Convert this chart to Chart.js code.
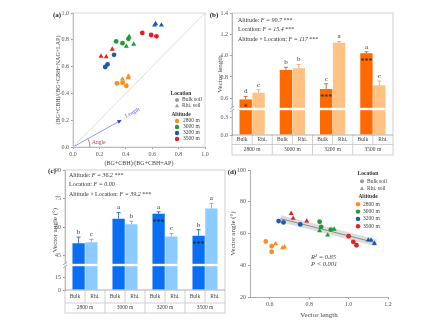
<!DOCTYPE html>
<html>
<head>
<meta charset="utf-8">
<script src="https://cdn.jsdelivr.net/npm/chart.js@4"></script>
<style>
  html, body { margin: 0; padding: 0; background: #fff; }
  #wrap { position: relative; width: 438px; height: 328px; overflow: hidden; }
  canvas { position: absolute; }
</style>
</head>
<body>
<div id="wrap">
  <canvas id="ca" width="178" height="168" style="left:40px;top:0;width:178px;height:168px"></canvas>
  <canvas id="cb" width="200" height="165" style="left:200px;top:0;width:200px;height:165px"></canvas>
  <canvas id="cc" width="195" height="168" style="left:35px;top:160px;width:195px;height:168px"></canvas>
  <canvas id="cd" width="185" height="168" style="left:215px;top:160px;width:185px;height:168px"></canvas>
</div>
<script>
// ---- data ----
const altitudes = ['2800 m', '3000 m', '3200 m', '3500 m'];
const locations = ['Bulk soil', 'Rhi. soil'];
const locShort = ['Bulk', 'Rhi.'];
const altColors = ['#ff8a1e', '#1f9a35', '#1d5ca8', '#e61e25'];

// (a) enzyme ratios, one inner list per altitude
const aBulkX = [[0.333, 0.376, 0.404], [0.327, 0.375, 0.420], [0.244, 0.262, 0.311], [0.525, 0.592, 0.632]];
const aBulkY = [[0.475, 0.481, 0.457], [0.788, 0.775, 0.807], [0.597, 0.617, 0.688], [0.851, 0.836, 0.826]];
const aRhiX = [[0.375, 0.418, 0.420], [0.404, 0.460, 0.425], [0.618, 0.626, 0.670], [0.212, 0.252, 0.297]];
const aRhiY = [[0.507, 0.517, 0.528], [0.751, 0.767, 0.824], [0.910, 0.920, 0.910], [0.677, 0.673, 0.730]];
const diagX = [0, 1];
const diagY = [0, 1];
const arrowX = [0, 0.355];
const arrowY = [0, 0.195];

// (b) vector length
const bBulk = [0.59, 0.866, 0.687, 1.022];
const bRhi = [0.653, 0.883, 1.12, 0.722];
const bBulkErr = [0.028, 0.025, 0.05, 0.015];
const bRhiErr = [0.028, 0.035, 0.012, 0.04];
const bBulkLetters = ['d', 'b', 'c', 'a'];
const bRhiLetters = ['c', 'b', 'a', 'c'];
const bBulkStars = ['*', '', '***', '***'];
const bFactors = ['Altitude', 'Location', 'Altitude \u00d7 Location'];
const bF = ['90.7', '15.4', '117'];
const bSig = ['***', '***', '***'];

// (c) vector angle
const cBulk = [51.5, 64.4, 67, 55.4];
const cRhi = [52, 61.4, 55, 69.7];
const cBulkErr = [3.2, 3.2, 1, 3.2];
const cRhiErr = [1.5, 1.6, 1.5, 2.7];
const cBulkLetters = ['b', 'a', 'a', 'b'];
const cRhiLetters = ['c', 'b', 'c', 'a'];
const cBulkStars = ['', '', '***', '***'];
const cF = ['36.2', '0.00', '39.2'];
const cSig = ['***', '', '***'];

// (d) vector angle vs length
const dBulkX = [[0.58, 0.61, 0.61], [0.853, 0.861, 0.91], [0.645, 0.67, 0.755], [1.0, 1.024, 1.04]];
const dBulkY = [[55, 52, 48.5], [67.4, 64.2, 62.5], [67.8, 67, 65.7], [58.3, 54.7, 52.6]];
const dRhiX = [[0.63, 0.665, 0.675], [0.853, 0.894, 0.927], [1.10, 1.114, 1.131], [0.709, 0.719, 0.788]];
const dRhiY = [[53.5, 51, 51.5], [61.7, 59, 62.7], [55.8, 55.8, 53.7], [72.6, 69.5, 67.8]];
const fitX = [0.655, 1.14];
const fitSlope = -31.5;
const fitIntercept = 90;
const dR2 = '0.85';
const dP = '< 0.001';

// tick labels
const unitTicks = [0, 0.2, 0.4, 0.6, 0.8, 1.0];
const bLowTicks = [0, 0.3];
const bHighTicks = [0.6, 0.8, 1.0, 1.2, 1.4];
const cLowTicks = [0, 15];
const cHighTicks = [45, 60, 75, 90];
const dXTicks = [0.6, 0.8, 1.0, 1.2];
const dYTicks = [20, 40, 60, 80, 100];

// ---- shared bits ----
const SERIF = "'Liberation Serif', 'Times New Roman', serif";
Chart.defaults.font.family = SERIF;
Chart.defaults.font.size = 6;
Chart.defaults.color = '#555';
Chart.defaults.animation = false;
Chart.defaults.plugins.legend.display = false;
Chart.defaults.plugins.tooltip.enabled = false;

const tickGrid = { drawOnChartArea: false, drawTicks: true, tickLength: 2, color: '#999' };
const axisBorder = { color: '#999', width: 0.8 };
const fixTicks = list => s => { s.ticks = list.map(value => ({ value })); };

function txt(ctx, s, x, y, font, color, align, base) {
  ctx.font = font;
  ctx.fillStyle = color || '#333';
  ctx.textAlign = align || 'left';
  ctx.textBaseline = base || 'middle';
  ctx.fillText(s, x, y);
}

function vtxt(ctx, s, x, y, font, color) {
  ctx.save();
  ctx.translate(x, y);
  ctx.rotate(-Math.PI / 2);
  txt(ctx, s, 0, 0, font, color, 'center');
  ctx.restore();
}

function marker(ctx, shape, x, y, r, color) {
  ctx.fillStyle = color;
  ctx.beginPath();
  if (shape === 'triangle') {
    ctx.moveTo(x, y - r * 1.15);
    ctx.lineTo(x + r, y + r * 0.65);
    ctx.lineTo(x - r, y + r * 0.65);
    ctx.closePath();
  } else {
    ctx.arc(x, y, r, 0, Math.PI * 2);
  }
  ctx.fill();
}

function drawLegend(ctx, o) {
  ctx.save();
  txt(ctx, 'Location', o.cx, o.y, 'bold 5.5px ' + SERIF, '#333', 'center');
  locations.forEach((loc, i) => {
    const yy = o.y + o.step * (i + 1);
    marker(ctx, i === 0 ? 'circle' : 'triangle', o.mx1, yy, 2, '#999');
    txt(ctx, loc, o.tx1, yy, '5.5px ' + SERIF, '#444');
  });
  txt(ctx, 'Altitude', o.cx, o.ay, 'bold 5.5px ' + SERIF, '#333', 'center');
  altitudes.forEach((alt, i) => {
    const yy = o.ay + o.step * (i + 1);
    marker(ctx, 'circle', o.mx2, yy, 2.2, altColors[i]);
    txt(ctx, alt, o.tx2, yy, '5.5px ' + SERIF, '#444');
  });
  ctx.restore();
}

function scatterSets(bx, by, rx, ry) {
  const sets = [];
  altitudes.forEach((alt, i) => {
    sets.push({
      label: alt + ' ' + locations[0],
      data: bx[i].map((v, j) => ({ x: v, y: by[i][j] })),
      pointStyle: 'circle', pointRadius: 2.4, borderWidth: 0,
      backgroundColor: altColors[i], borderColor: altColors[i]
    });
    sets.push({
      label: alt + ' ' + locations[1],
      data: rx[i].map((v, j) => ({ x: v, y: ry[i][j] })),
      pointStyle: 'triangle', pointRadius: 2.9, borderWidth: 0,
      backgroundColor: altColors[i], borderColor: altColors[i]
    });
  });
  return sets;
}

// ---- (a) ----
const aSets = scatterSets(aBulkX, aBulkY, aRhiX, aRhiY);
aSets.push({
  label: '1:1', data: diagX.map((v, j) => ({ x: v, y: diagY[j] })),
  showLine: true, borderColor: '#d6d6d6', borderWidth: 0.8, pointRadius: 0
});
aSets.push({
  label: 'vector', data: arrowX.map((v, j) => ({ x: v, y: arrowY[j] })),
  showLine: true, borderColor: '#8c9cff', borderWidth: 1, pointRadius: 0
});

new Chart(document.getElementById('ca'), {
  type: 'scatter',
  data: { datasets: aSets },
  options: {
    responsive: false,
    layout: { padding: { left: 0, top: 13, right: 13, bottom: 0 } },
    scales: {
      x: {
        type: 'linear', min: 0, max: 1,
        afterBuildTicks: fixTicks(unitTicks),
        afterFit: s => { s.height = 21; },
        ticks: { callback: v => v.toFixed(1), padding: 2, maxRotation: 0 },
        grid: tickGrid, border: axisBorder
      },
      y: {
        type: 'linear', min: 0, max: 1,
        afterBuildTicks: fixTicks(unitTicks),
        afterFit: s => { s.width = 33; },
        ticks: { callback: v => v.toFixed(1), padding: 2 },
        grid: tickGrid, border: axisBorder
      }
    }
  },
  plugins: [{
    id: 'aDeco',
    afterDraw(chart) {
      const { ctx, chartArea: ca } = chart;
      ctx.save();
      ctx.strokeStyle = '#cfcfcf';
      ctx.lineWidth = 0.8;
      ctx.strokeRect(ca.left, ca.top, ca.right - ca.left, ca.bottom - ca.top);
      // arrow head, angle arc and labels
      const pts = chart.getDatasetMeta(aSets.length - 1).data;
      const x0 = pts[0].x, y0 = pts[0].y, x1 = pts[1].x, y1 = pts[1].y;
      const ang = Math.atan2(y1 - y0, x1 - x0);
      ctx.fillStyle = '#2a3fd6';
      ctx.beginPath();
      ctx.moveTo(x1 + 2 * Math.cos(ang), y1 + 2 * Math.sin(ang));
      ctx.lineTo(x1 + 3 * Math.cos(ang + 2.4), y1 + 3 * Math.sin(ang + 2.4));
      ctx.lineTo(x1 + 3 * Math.cos(ang - 2.4), y1 + 3 * Math.sin(ang - 2.4));
      ctx.closePath();
      ctx.fill();
      ctx.strokeStyle = '#c04060';
      ctx.lineWidth = 0.7;
      ctx.beginPath();
      ctx.arc(x0, y0, 17, ang, 0);
      ctx.stroke();
      txt(ctx, 'Angle', x0 + 19, y0 - 4, '5.5px ' + SERIF, '#d0304a');
      ctx.translate(x1 + 15 * Math.cos(ang), y1 + 15 * Math.sin(ang));
      ctx.rotate(ang);
      txt(ctx, 'Length', 0, -1, '5.5px ' + SERIF, '#4a5ae8', 'center');
      ctx.restore();
      txt(ctx, '(BG+CBH)/(BG+CBH+AP)', (ca.left + ca.right) / 2, ca.bottom + 16, '6px ' + SERIF, '#444', 'center');
      vtxt(ctx, '(BG+CBH)/(BG+CBH+NAG+LAP)', 18, (ca.top + ca.bottom) / 2, '6px ' + SERIF, '#444');
      txt(ctx, '(a)', 17, 15, 'bold 7px ' + SERIF, '#222', 'center');
      drawLegend(ctx, { cx: 141, y: 94, step: 6, mx1: 137, tx1: 142, ay: 115, mx2: 137, tx2: 143 });
    }
  }]
});

// ---- bar panels (b) and (c) ----
function barSets(bulk, rhi, colors) {
  return [
    { label: locShort[0], data: bulk, yAxisID: 'yHigh', stack: 'bulk', backgroundColor: colors[0], clip: 0 },
    { label: locShort[1], data: rhi, yAxisID: 'yHigh', stack: 'rhi', backgroundColor: colors[1], clip: 0 },
    { label: locShort[0], data: bulk, yAxisID: 'yLow', stack: 'bulk', backgroundColor: colors[0], clip: 0 },
    { label: locShort[1], data: rhi, yAxisID: 'yLow', stack: 'rhi', backgroundColor: colors[1], clip: 0 }
  ];
}

function splitAxes(lo, hi, loTicks, hiTicks, fmt, width) {
  const common = {
    type: 'linear', position: 'left', stack: 'v',
    grid: tickGrid, border: axisBorder,
    afterFit: s => { s.width = width; },
    ticks: { callback: fmt, padding: 2 }
  };
  return {
    x: { display: false },
    yLow: Object.assign({}, common, { min: lo[0], max: lo[1], stackWeight: lo[2], afterBuildTicks: fixTicks(loTicks) }),
    yHigh: Object.assign({}, common, { min: hi[0], max: hi[1], stackWeight: hi[2], afterBuildTicks: fixTicks(hiTicks) })
  };
}

function barDeco(o) {
  return {
    id: 'barDeco',
    afterDraw(chart) {
      const { ctx, chartArea: ca, scales } = chart;
      const yH = scales.yHigh, x = scales.x;
      ctx.save();
      // axis break
      const yb = yH.bottom;
      ctx.fillStyle = '#fff';
      ctx.fillRect(ca.left - 2, yb - 1.2, ca.right - ca.left + 1, 2.4);
      ctx.strokeStyle = '#888';
      ctx.lineWidth = 0.7;
      [-1.6, 1.6].forEach(d => {
        ctx.beginPath();
        ctx.moveTo(ca.left - 2, yb + d + 1.5);
        ctx.lineTo(ca.left + 2, yb + d - 1.5);
        ctx.stroke();
      });
      // error bars, letters, stars
      [0, 1].forEach(k => {
        const vals = chart.data.datasets[k].data;
        chart.getDatasetMeta(k).data.forEach((el, i) => {
          const v = vals[i], e = o.err[k][i];
          const yt = yH.getPixelForValue(v), ye = yH.getPixelForValue(v + e);
          ctx.strokeStyle = o.errColor[k];
          ctx.lineWidth = 0.8;
          ctx.beginPath();
          ctx.moveTo(el.x, yt); ctx.lineTo(el.x, ye);
          ctx.moveTo(el.x - 2, ye); ctx.lineTo(el.x + 2, ye);
          ctx.stroke();
          txt(ctx, o.letters[k][i], el.x, ye - 1.5, '7px ' + SERIF, '#333', 'center', 'bottom');
          if (o.stars[k] && o.stars[k][i]) {
            txt(ctx, o.stars[k][i], el.x, yt + 9, '8px ' + SERIF, '#222', 'center', 'middle');
          }
        });
      });
      // frame and category table
      const y0 = ca.bottom, y1 = y0 + o.h1, y2 = y1 + o.h2;
      ctx.strokeStyle = '#c4c4c4';
      ctx.lineWidth = 0.8;
      ctx.strokeRect(ca.left, ca.top, ca.right - ca.left, y2 - ca.top);
      ctx.beginPath();
      ctx.moveTo(ca.left, y1); ctx.lineTo(ca.right, y1);
      ctx.stroke();
      chart.data.labels.forEach((lab, i) => {
        const l = x.getPixelForValue(i - 0.5), m = x.getPixelForValue(i), r = x.getPixelForValue(i + 0.5);
        ctx.strokeStyle = '#c4c4c4';
        ctx.beginPath();
        if (i > 0) { ctx.moveTo(l, y0); ctx.lineTo(l, y2); }
        ctx.moveTo(m, y0); ctx.lineTo(m, y1);
        ctx.stroke();
        txt(ctx, locShort[0], (l + m) / 2, (y0 + y1) / 2, '5.5px ' + SERIF, '#444', 'center');
        txt(ctx, locShort[1], (m + r) / 2, (y0 + y1) / 2, '5.5px ' + SERIF, '#444', 'center');
        txt(ctx, lab, m, (y1 + y2) / 2, '5.5px ' + SERIF, '#444', 'center');
      });
      ctx.strokeStyle = '#999';
      ctx.beginPath();
      ctx.moveTo(ca.left, y0); ctx.lineTo(ca.right, y0);
      ctx.stroke();
      // statistics
      o.factors.forEach((f, i) => {
        let cx = ca.left + o.sx;
        const yy = ca.top + o.sy[i];
        const parts = [[f + ': ', ''], ['F = ' + o.F[i], 'italic '], [o.sig[i] ? ' ' + o.sig[i] : '', '']];
        parts.forEach(([s, st]) => {
          txt(ctx, s, cx, yy, st + '6px ' + SERIF, '#333');
          cx += ctx.measureText(s).width;
        });
      });
      vtxt(ctx, o.title, o.tx, (ca.top + ca.bottom) / 2, '7px ' + SERIF, '#444');
      txt(ctx, o.panel, o.px, o.py, 'bold 7px ' + SERIF, '#222', 'center');
      ctx.restore();
    }
  };
}

new Chart(document.getElementById('cb'), {
  type: 'bar',
  data: { labels: altitudes, datasets: barSets(bBulk, bRhi, ['#ff6a00', '#ffc282']) },
  options: {
    responsive: false,
    categoryPercentage: 0.64,
    barPercentage: 0.96,
    layout: { padding: { left: 0, top: 13, right: 7, bottom: 30 } },
    scales: splitAxes([0, 0.45, 26], [0.5, 1.4, 96], bLowTicks, bHighTicks, v => v.toFixed(1), 32)
  },
  plugins: [barDeco({
    err: [bBulkErr, bRhiErr], errColor: ['#c65000', '#e6a060'],
    letters: [bBulkLetters, bRhiLetters], stars: [bBulkStars, null],
    h1: 9.5, h2: 10.5,
    factors: bFactors, F: bF, sig: bSig, sx: 6, sy: [7, 16.5, 26],
    title: 'Vector length', tx: 20, panel: '(b)', px: 14, py: 15
  })]
});

new Chart(document.getElementById('cc'), {
  type: 'bar',
  data: { labels: altitudes, datasets: barSets(cBulk, cRhi, ['#0a6ef5', '#8ccbff']) },
  options: {
    responsive: false,
    categoryPercentage: 0.64,
    barPercentage: 0.96,
    layout: { padding: { left: 0, top: 10, right: 5, bottom: 38 } },
    scales: splitAxes([0, 29, 25], [40, 90, 95], cLowTicks, cHighTicks, v => String(v), 30)
  },
  plugins: [barDeco({
    err: [cBulkErr, cRhiErr], errColor: ['#0a55c0', '#5aa4e6'],
    letters: [cBulkLetters, cRhiLetters], stars: [cBulkStars, null],
    h1: 13, h2: 10,
    factors: bFactors, F: cF, sig: cSig, sx: 4, sy: [5, 14.5, 24],
    title: 'Vector angle (\u00b0)', tx: 20, panel: '(c)', px: 17, py: 11
  })]
});

// ---- (d) ----
const dSets = scatterSets(dBulkX, dBulkY, dRhiX, dRhiY);
const fitPts = fitX.map(v => ({ x: v, y: fitIntercept + fitSlope * v }));
dSets.push({ label: 'fit', data: fitPts, showLine: true, borderColor: '#8a8a8a', borderWidth: 1, pointRadius: 0 });
dSets.push({ label: 'band', data: fitPts, showLine: true, borderColor: 'rgba(150,150,150,0.32)', borderWidth: 7, pointRadius: 0 });

new Chart(document.getElementById('cd'), {
  type: 'scatter',
  data: { datasets: dSets },
  options: {
    responsive: false,
    layout: { padding: { left: 0, top: 10, right: 12, bottom: 0 } },
    scales: {
      x: {
        type: 'linear', min: 0.5, max: 1.2,
        afterBuildTicks: fixTicks(dXTicks),
        afterFit: s => { s.height = 31; },
        ticks: { callback: v => v.toFixed(1), padding: 2, maxRotation: 0 },
        grid: tickGrid, border: axisBorder
      },
      y: {
        type: 'linear', min: 20, max: 100,
        afterBuildTicks: fixTicks(dYTicks),
        afterFit: s => { s.width = 35; },
        ticks: { padding: 2 },
        grid: tickGrid, border: axisBorder
      }
    }
  },
  plugins: [{
    id: 'dDeco',
    afterDraw(chart) {
      const { ctx, chartArea: ca, scales: { x, y } } = chart;
      ctx.save();
      const tx = x.getPixelForValue(0.81);
      txt(ctx, 'R\u00b2 = ' + dR2, tx, y.getPixelForValue(45.3), 'italic 6.5px ' + SERIF, '#444');
      txt(ctx, 'P ' + dP, tx, y.getPixelForValue(40.6), 'italic 6.5px ' + SERIF, '#444');
      txt(ctx, 'Vector length', (ca.left + ca.right) / 2, ca.bottom + 18, '7px ' + SERIF, '#444', 'center');
      vtxt(ctx, 'Vector angle (\u00b0)', 18, (ca.top + ca.bottom) / 2, '7px ' + SERIF, '#444');
      txt(ctx, '(d)', 17, 12, 'bold 7px ' + SERIF, '#222', 'center');
      drawLegend(ctx, { cx: 153, y: 14, step: 7.3, mx1: 147, tx1: 152, ay: 37, mx2: 143, tx2: 148 });
      ctx.restore();
    }
  }]
});
</script>
</body>
</html>
